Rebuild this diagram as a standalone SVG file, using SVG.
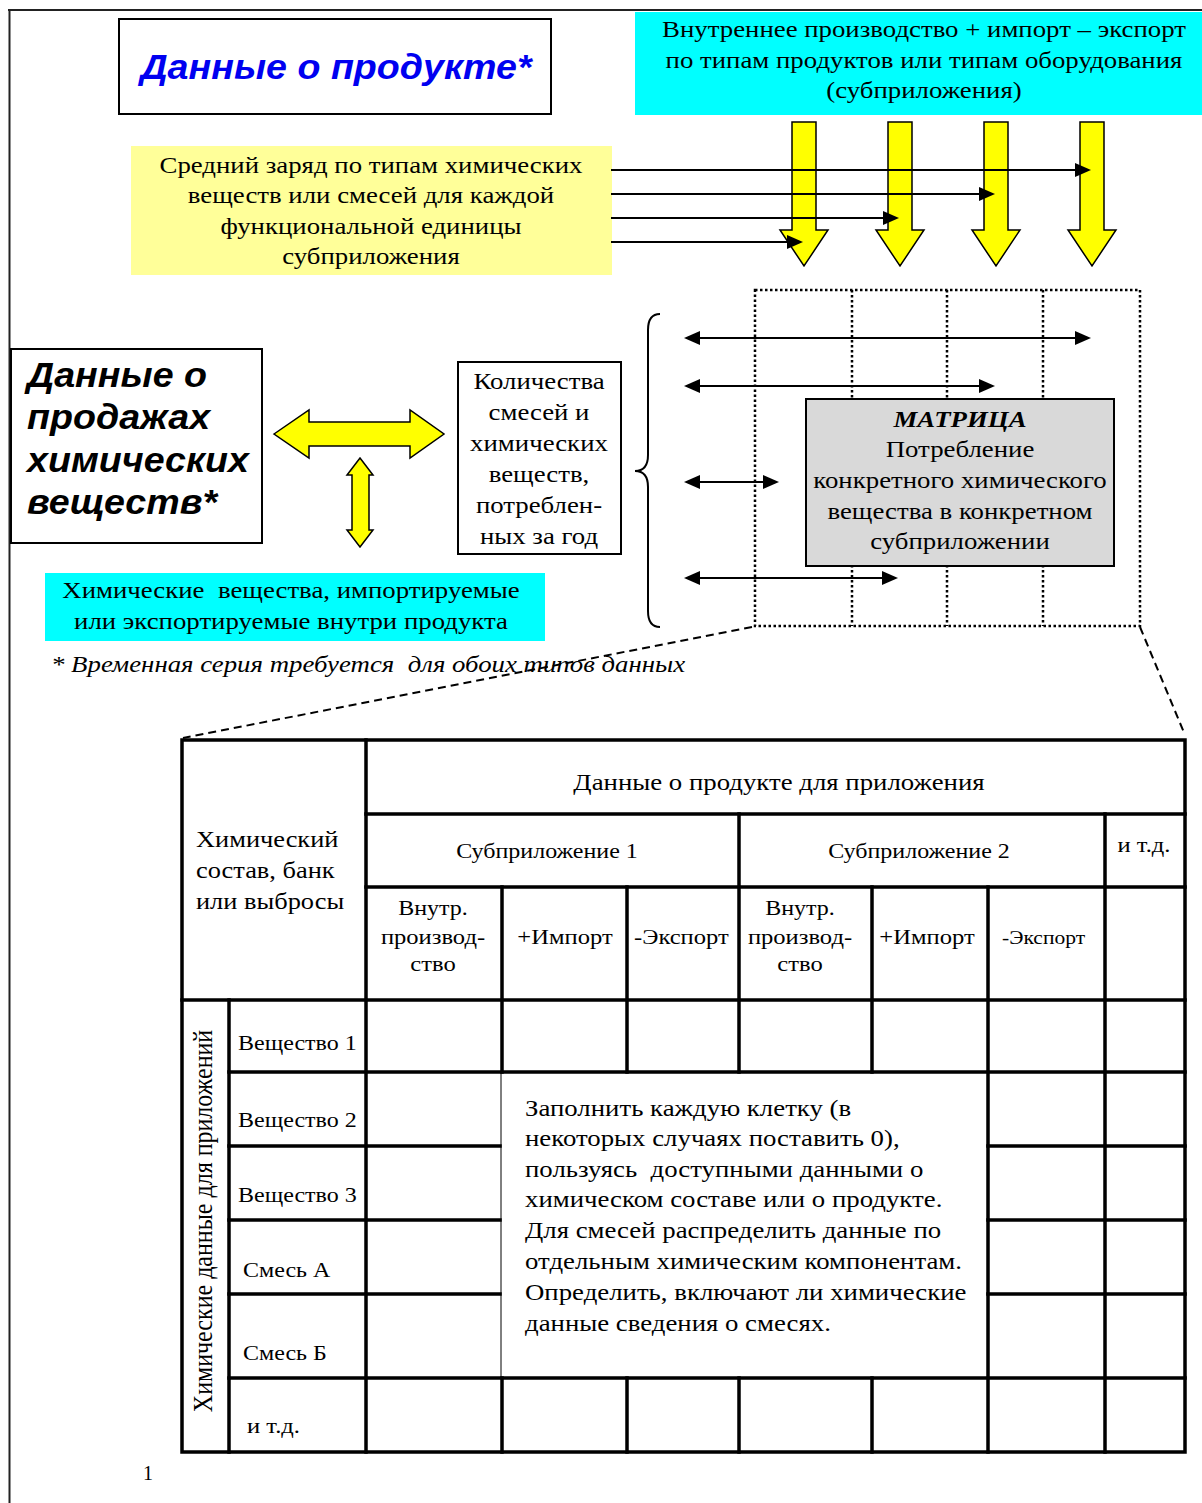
<svg xmlns="http://www.w3.org/2000/svg" width="1202" height="1503" viewBox="0 0 1202 1503">
<style>
.t{font-family:"Liberation Serif","Times New Roman",serif;font-size:24px;fill:#000}
.tm{text-anchor:middle}
.s22{font-size:22px}
.s215{font-size:21.5px}
.s20{font-size:20px}
.s19{font-size:19.3px}
.it{font-style:italic}
.h{font-family:"Liberation Sans",Arial,sans-serif;font-weight:bold;font-style:italic;font-size:35px}
.box{fill:#fff;stroke:#000;stroke-width:2}
.ya{fill:#ffff00;stroke:#000;stroke-width:1.5;stroke-linejoin:miter}
.ln{stroke:#000;stroke-width:2;fill:none}
.dot{stroke:#000;stroke-width:2.5;fill:none;stroke-dasharray:2.5 2.5}
.dash{stroke:#000;stroke-width:2;fill:none;stroke-dasharray:8 5}
.tk{stroke:#000;stroke-width:3.5;fill:none;stroke-linecap:square}
.tn{stroke:#000;stroke-width:1;fill:none}
</style>
<defs>
<marker id="ah" markerUnits="userSpaceOnUse" markerWidth="16" markerHeight="14" refX="8" refY="7" orient="auto-start-reverse" viewBox="0 0 16 14">
<path d="M0,0 L16,7 L0,14 z" fill="#000"/>
</marker>
</defs>
<rect width="1202" height="1503" fill="#fff"/>
<g id="page-border">
<path d="M8,10 H1202 M9.5,10 V1503" stroke="#222" stroke-width="2" fill="none"/>
</g>
<g id="title-product">
<rect class="box" x="119" y="19" width="432" height="95"/>
<text class="h" transform="matrix(1.075 0 0 1 336 79)" text-anchor="middle" fill="#0000f0">Данные о продукте*</text>
</g>
<g id="top-cyan">
<rect x="635" y="12" width="567" height="103" fill="#00ffff"/>
<text class="t tm" transform="matrix(1.117 0 0 1 924 37)">Внутреннее производство + импорт – экспорт</text>
<text class="t tm" transform="matrix(1.117 0 0 1 924 68)">по типам продуктов или типам оборудования</text>
<text class="t tm" transform="matrix(1.117 0 0 1 924 98)">(субприложения)</text>
</g>
<g id="avg-charge">
<rect x="131" y="146" width="481" height="129" fill="#ffff99"/>
<text class="t tm" transform="matrix(1.117 0 0 1 371 173)">Средний заряд по типам химических</text>
<text class="t tm" transform="matrix(1.117 0 0 1 371 203)">веществ или смесей для каждой</text>
<text class="t tm" transform="matrix(1.117 0 0 1 371 234)">функциональной единицы</text>
<text class="t tm" transform="matrix(1.117 0 0 1 371 264)">субприложения</text>
</g>
<g id="block-arrows">
<path class="ya" d="M792,122 H816 V230 H828 L804,266 L780,230 H792 Z"/>
<path class="ya" d="M888,122 H912 V230 H924 L900,266 L876,230 H888 Z"/>
<path class="ya" d="M984,122 H1008 V230 H1020 L996,266 L972,230 H984 Z"/>
<path class="ya" d="M1080,122 H1104 V230 H1116 L1092,266 L1068,230 H1080 Z"/>
<path class="ya" d="M274,434 L309,410 V422 H410 V410 L444,434 L410,458 V446 H309 V458 Z"/>
<path class="ya" d="M360,458 L373,475 H369 V530 H373 L360,547 L347,530 H352 V475 H347 Z"/>
</g>
<g id="sales-data">
<rect class="box" x="11" y="349" width="251" height="194"/>
<text class="h" transform="matrix(1.075 0 0 1 27 387)">Данные о</text>
<text class="h" transform="matrix(1.075 0 0 1 27 429)">продажах</text>
<text class="h" transform="matrix(1.075 0 0 1 27 472)">химических</text>
<text class="h" transform="matrix(1.075 0 0 1 27 514)">веществ*</text>
</g>
<g id="quantities">
<rect class="box" x="458" y="362" width="163" height="192"/>
<text class="t tm" transform="matrix(1.117 0 0 1 539 389)">Количества</text>
<text class="t tm" transform="matrix(1.117 0 0 1 539 420)">смесей и</text>
<text class="t tm" transform="matrix(1.117 0 0 1 539 451)">химических</text>
<text class="t tm" transform="matrix(1.117 0 0 1 539 482)">веществ,</text>
<text class="t tm" transform="matrix(1.117 0 0 1 539 513)">потреблен-</text>
<text class="t tm" transform="matrix(1.117 0 0 1 539 544)">ных за год</text>
</g>
<g id="import-export-cyan">
<rect x="45" y="573" width="500" height="68" fill="#00ffff"/>
<text class="t tm" transform="matrix(1.117 0 0 1 291 598)" xml:space="preserve">Химические  вещества, импортируемые</text>
<text class="t tm" transform="matrix(1.117 0 0 1 291 629)">или экспортируемые внутри продукта</text>
</g>
<g id="footnote">
<text class="t it" transform="matrix(1.117 0 0 1 51 672)" xml:space="preserve">* Временная серия требуется  для обоих типов данных</text>
</g>
<g id="brace">
<path class="ln" d="M660,314 C651,314 648,320 648,330 L648,455 C648,466 643,471 635,471 C643,471 648,476 648,487 L648,611 C648,621 651,627 660,627"/>
</g>
<g id="matrix-grid">
<rect class="dot" x="755" y="290" width="385" height="336"/>
<path class="dot" d="M852,290 V626 M947,290 V626 M1043,290 V626"/>
</g>
<g id="connectors">
<path class="ln" marker-end="url(#ah)" d="M611,170 H1083"/>
<path class="ln" marker-end="url(#ah)" d="M611,194 H987"/>
<path class="ln" marker-end="url(#ah)" d="M611,218 H891"/>
<path class="ln" marker-end="url(#ah)" d="M611,242 H795"/>
<path class="ln" marker-start="url(#ah)" marker-end="url(#ah)" d="M692,338 H1083"/>
<path class="ln" marker-start="url(#ah)" marker-end="url(#ah)" d="M692,386 H987"/>
<path class="ln" marker-start="url(#ah)" marker-end="url(#ah)" d="M692,482 H771"/>
<path class="ln" marker-start="url(#ah)" marker-end="url(#ah)" d="M692,578 H890"/>
<path class="dash" d="M752,627 L183,738"/>
<path class="dash" d="M1140,627 L1185,735"/>
</g>
<g id="matrix">
<rect x="806" y="399" width="308" height="167" fill="#d9d9d9" stroke="#000" stroke-width="2"/>
<text class="t tm it" transform="matrix(1.117 0 0 1 960 427)" font-weight="bold">МАТРИЦА</text>
<text class="t tm" transform="matrix(1.117 0 0 1 960 457)">Потребление</text>
<text class="t tm" transform="matrix(1.117 0 0 1 960 488)">конкретного химического</text>
<text class="t tm" transform="matrix(1.117 0 0 1 960 519)">вещества в конкретном</text>
<text class="t tm" transform="matrix(1.117 0 0 1 960 549)">субприложении</text>
</g>
<g id="table">
<rect class="tk" x="182" y="740" width="1003" height="712"/>
<path class="tk" d="M366,814 H1185 M366,887 H1185 M182,1000 H1185 M229,1072 H1185 M229,1146 H500 M988,1146 H1185 M229,1220 H500 M988,1220 H1185 M229,1294 H500 M988,1294 H1185 M229,1378 H1185"/>
<path class="tk" d="M229,1000 V1452 M366,740 V1452 M502,887 V1072 M502,1378 V1452 M627,887 V1072 M627,1378 V1452 M739,814 V1072 M739,1378 V1452 M872,887 V1072 M872,1378 V1452 M988,887 V1452 M1105,814 V1452"/>
<path class="tn" d="M501,1072 V1378"/>
<text class="t tm" transform="matrix(1.117 0 0 1 779 790)">Данные о продукте для приложения</text>
<text class="t tm s215" transform="matrix(1.117 0 0 1 547 858)">Субприложение 1</text>
<text class="t tm s215" transform="matrix(1.117 0 0 1 919 858)">Субприложение 2</text>
<text class="t tm s22" transform="matrix(1.117 0 0 1 1144 852)">и т.д.</text>
<text class="t" transform="matrix(1.1 0 0 1 196 847)">Химический</text>
<text class="t" transform="matrix(1.1 0 0 1 196 878)">состав, банк</text>
<text class="t" transform="matrix(1.1 0 0 1 196 909)">или выбросы</text>
<text class="t tm s215" transform="matrix(1.117 0 0 1 433 915)">Внутр.</text>
<text class="t tm s22" transform="matrix(1.117 0 0 1 433 944)">производ-</text>
<text class="t tm s22" transform="matrix(1.117 0 0 1 433 971)">ство</text>
<text class="t tm s22" transform="matrix(1.117 0 0 1 565 944)">+Импорт</text>
<text class="t s22" transform="matrix(1.117 0 0 1 634 944)">-Экспорт</text>
<text class="t tm s215" transform="matrix(1.117 0 0 1 800 915)">Внутр.</text>
<text class="t tm s22" transform="matrix(1.117 0 0 1 800 944)">производ-</text>
<text class="t tm s22" transform="matrix(1.117 0 0 1 800 971)">ство</text>
<text class="t tm s22" transform="matrix(1.117 0 0 1 927 944)">+Импорт</text>
<text class="t s19" transform="matrix(1.117 0 0 1 1002 944)">-Экспорт</text>
<text class="t tm" transform="translate(212,1221) rotate(-90) scale(1,1.117)">Химические данные для приложений</text>
<text class="t s215" transform="matrix(1.117 0 0 1 238 1050)">Вещество 1</text>
<text class="t s215" transform="matrix(1.117 0 0 1 238 1127)">Вещество 2</text>
<text class="t s215" transform="matrix(1.117 0 0 1 238 1202)">Вещество 3</text>
<text class="t s215" transform="matrix(1.117 0 0 1 243 1277)">Смесь А</text>
<text class="t s215" transform="matrix(1.117 0 0 1 243 1360)">Смесь Б</text>
<text class="t s22" transform="matrix(1.117 0 0 1 247 1433)">и т.д.</text>
<text class="t" transform="matrix(1.117 0 0 1 525 1116)">Заполнить каждую клетку (в</text>
<text class="t" transform="matrix(1.117 0 0 1 525 1146)">некоторых случаях поставить 0),</text>
<text class="t" transform="matrix(1.117 0 0 1 525 1177)" xml:space="preserve">пользуясь  доступными данными о</text>
<text class="t" transform="matrix(1.117 0 0 1 525 1207)">химическом составе или о продукте.</text>
<text class="t" transform="matrix(1.117 0 0 1 525 1238)">Для смесей распределить данные по</text>
<text class="t" transform="matrix(1.117 0 0 1 525 1269)">отдельным химическим компонентам.</text>
<text class="t" transform="matrix(1.117 0 0 1 525 1300)">Определить, включают ли химические</text>
<text class="t" transform="matrix(1.117 0 0 1 525 1331)">данные сведения о смесях.</text>
</g>
<g id="page-number">
<text class="t s20" x="143" y="1480">1</text>
</g>
</svg>
